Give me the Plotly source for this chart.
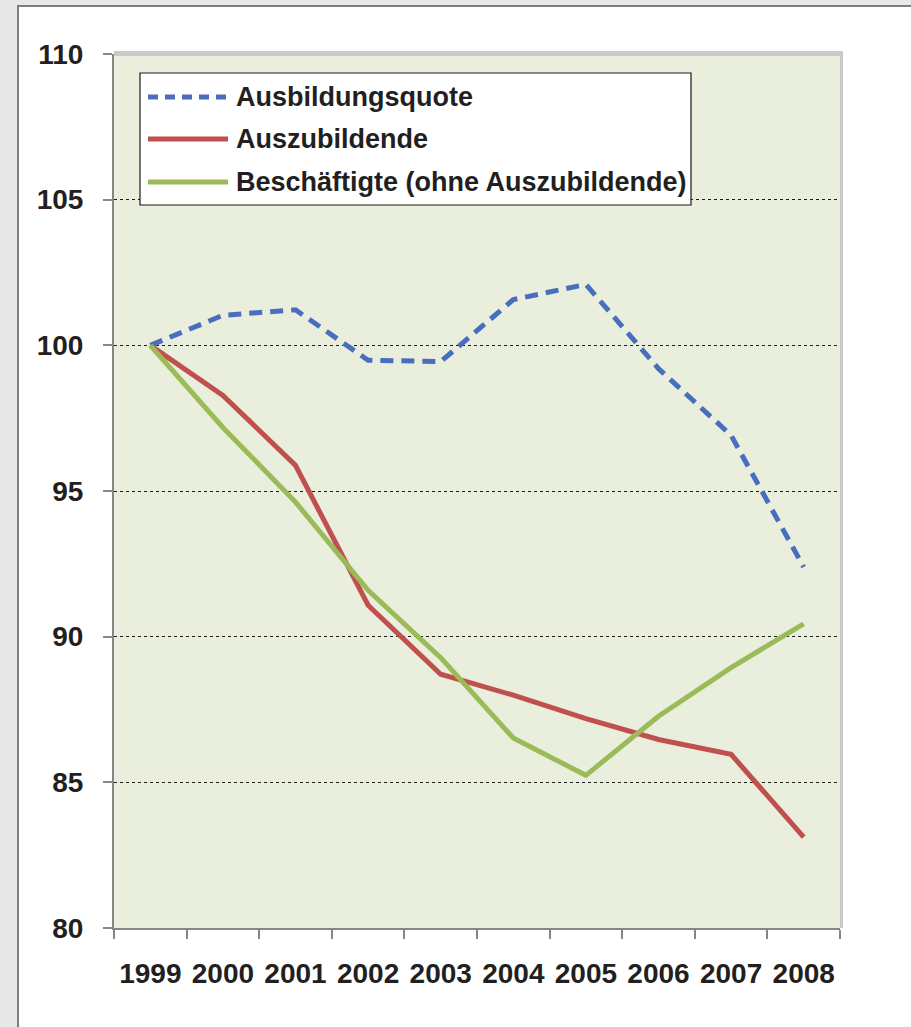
import plotly.graph_objects as go

years = ["1999", "2000", "2001", "2002", "2003", "2004", "2005", "2006", "2007", "2008"]
ausbildungsquote = [100.0, 101.03, 101.22, 99.49, 99.44, 101.57, 102.09, 99.2, 96.91, 92.39]
auszubildende = [100.0, 98.28, 95.88, 91.08, 88.71, 87.99, 87.19, 86.47, 85.96, 83.12]
beschaeftigte = [100.0, 97.18, 94.62, 91.59, 89.28, 86.52, 85.24, 87.27, 88.94, 90.44]
series_names = ["Ausbildungsquote", "Auszubildende", "Beschäftigte (ohne Auszubildende)"]
y_ticks = [80, 85, 90, 95, 100, 105, 110]

BLUE = "#4a6ebe"
RED = "#c0504d"
GREEN = "#9bbb59"
TXT = "#231f20"
FONT = "Liberation Sans, Arial, sans-serif"

# plot area in pixels
L, R, T, B = 114, 840, 54, 928
W, H = R - L, B - T


def px(x):
    return (x - L) / W


def py(y):
    return (B - y) / H


fig = go.Figure()
fig.add_trace(go.Scatter(x=years, y=ausbildungsquote, mode="lines", name=series_names[0],
                         line=dict(color=BLUE, width=5, dash="13px,8px"), showlegend=False))
fig.add_trace(go.Scatter(x=years, y=auszubildende, mode="lines", name=series_names[1],
                         line=dict(color=RED, width=5), showlegend=False))
fig.add_trace(go.Scatter(x=years, y=beschaeftigte, mode="lines", name=series_names[2],
                         line=dict(color=GREEN, width=5), showlegend=False))

shapes = [
    # outer white panel with border
    dict(type="rect", xref="paper", yref="paper", x0=px(18), x1=px(930), y0=py(1040), y1=py(6),
         fillcolor="white", line=dict(color="#7f7f7f", width=2), layer="below"),
    # shadow
    dict(type="rect", xref="paper", yref="paper", x0=px(114), x1=px(843), y0=py(928), y1=py(51),
         fillcolor="#c9c9c9", line=dict(width=0), layer="below"),
    # plot area
    dict(type="rect", xref="paper", yref="paper", x0=0, x1=1, y0=0, y1=1,
         fillcolor="#e9eedd", line=dict(width=0), layer="below"),
    # cover top gridline with shadow band
    dict(type="rect", xref="paper", yref="paper", x0=px(114), x1=px(843), y0=py(56), y1=py(51),
         fillcolor="#c9c9c9", line=dict(width=0), layer="above"),
    # legend box
    dict(type="rect", xref="paper", yref="paper", x0=px(140), x1=px(691), y0=py(205), y1=py(73),
         fillcolor="white", line=dict(color="#1a1a1a", width=1.2), layer="above"),
]
legend_rows = [97, 139, 182]
legend_styles = [dict(color=BLUE, width=5, dash="10px,7px"), dict(color=RED, width=5), dict(color=GREEN, width=5)]
for yy, st in zip(legend_rows, legend_styles):
    shapes.append(dict(type="line", xref="paper", yref="paper", x0=px(148), x1=px(228),
                       y0=py(yy), y1=py(yy), line=st, layer="above"))

annotations = []
for yy, name in zip(legend_rows, series_names):
    annotations.append(dict(xref="paper", yref="paper", x=px(234), y=py(yy), text=name,
                            showarrow=False, xanchor="left", yanchor="middle",
                            font=dict(family=FONT, size=27, color=TXT, weight="bold")))

fig.update_layout(
    width=911, height=1027,
    margin=dict(l=L, r=911 - R, t=T, b=1027 - B),
    paper_bgcolor="#e8e8e8",
    plot_bgcolor="rgba(0,0,0,0)",
    shapes=shapes,
    annotations=annotations,
    showlegend=False,
    font=dict(family=FONT, color=TXT),
)
fig.update_xaxes(
    type="category", tickson="boundaries", range=[-0.5, 9.5],
    showline=True, linecolor="#868686", linewidth=2,
    ticks="outside", ticklen=9, tickcolor="#868686", tickwidth=1.5,
    showgrid=False, ticklabelstandoff=19,
    tickfont=dict(family=FONT, size=28, color=TXT, weight="bold"),
)
fig.update_yaxes(
    range=[80, 110], tickvals=y_ticks, ticktext=[str(v) for v in y_ticks],
    showline=True, linecolor="#868686", linewidth=2,
    ticks="outside", ticklen=9, tickcolor="#868686", tickwidth=1.5,
    showgrid=True, gridcolor="#1a1a1a", gridwidth=1, griddash="dot",
    zeroline=False, ticklabelstandoff=14,
    tickfont=dict(family=FONT, size=28, color=TXT, weight="bold"),
)
fig.write_html("out.html", config={"displayModeBar": False},
               post_script="document.body.style.margin='0';document.body.style.overflow='hidden';")
